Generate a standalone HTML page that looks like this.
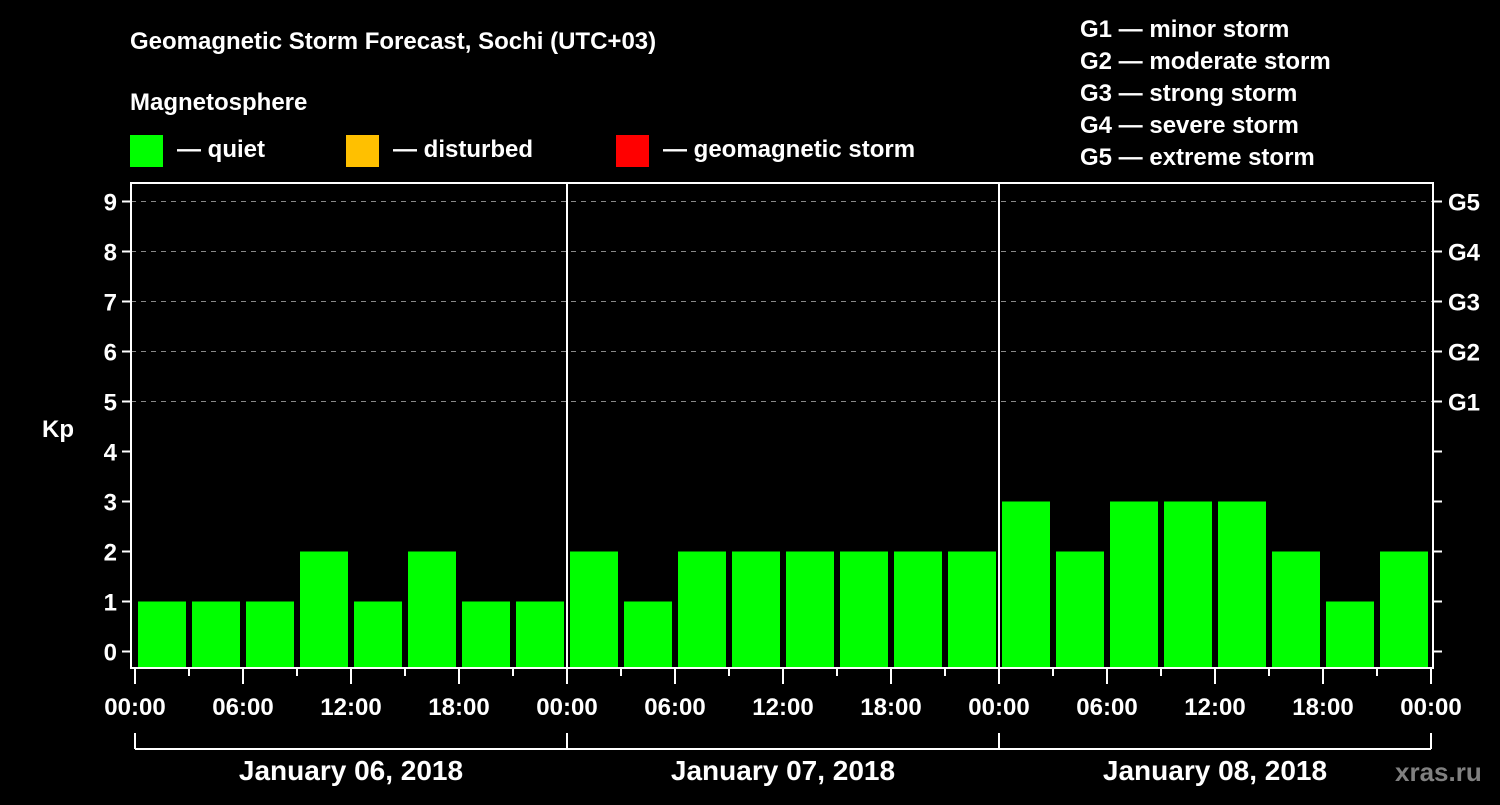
<!DOCTYPE html>
<html><head><meta charset="utf-8"><style>
body{margin:0;background:#000;width:1500px;height:800px;overflow:hidden}
svg text{font-family:"Liberation Sans",Arial,sans-serif;font-weight:bold;fill:#fff}
</style></head><body>
<svg width="1500" height="800" viewBox="0 0 1500 800">
<rect width="1500" height="800" fill="#000"/>
<text x="130" y="49" font-size="24">Geomagnetic Storm Forecast, Sochi (UTC+03)</text>
<text x="130" y="110" font-size="24">Magnetosphere</text>
<g>
<rect x="130" y="135" width="33" height="32" fill="#00ff00"/>
<text x="177" y="157" font-size="24">— quiet</text>
<rect x="346" y="135" width="33" height="32" fill="#ffc000"/>
<text x="393" y="157" font-size="24">— disturbed</text>
<rect x="616" y="135" width="33" height="32" fill="#ff0000"/>
<text x="663" y="157" font-size="24">— geomagnetic storm</text>
</g>
<g font-size="24">
<text x="1080" y="37">G1 — minor storm</text>
<text x="1080" y="69">G2 — moderate storm</text>
<text x="1080" y="101">G3 — strong storm</text>
<text x="1080" y="133">G4 — severe storm</text>
<text x="1080" y="165">G5 — extreme storm</text>
</g>
<text x="42" y="437" font-size="24">Kp</text>
<g id="grid"></g>
<g id="bars"></g>
<g id="axes"></g>
<text x="1395" y="781" font-size="26" fill="#808080" style="fill:#808080">xras.ru</text>
</svg>
<script>
const days = ["January 06, 2018","January 07, 2018","January 08, 2018"];
const kpValues = [1,1,1,2,1,2,1,1, 2,1,2,2,2,2,2,2, 3,2,3,3,3,2,1,2];
const yTicks = [0,1,2,3,4,5,6,7,8,9];
const gLabels = ["G1","G2","G3","G4","G5"];
const xTickLabels = ["00:00","06:00","12:00","18:00"];

const NS="http://www.w3.org/2000/svg";
const L=131,R=1433,T=183,B=668,X0=135,X1=1431;
const y=v=>651.5-v*50;
const slotW=(X1-X0)/kpValues.length;
const x=i=>X0+i*slotW;
function mk(tag,attrs,parent,txt){const e=document.createElementNS(NS,tag);for(const k in attrs)e.setAttribute(k,attrs[k]);if(txt!==undefined)e.textContent=txt;parent.appendChild(e);return e;}
const grid=document.getElementById('grid'),bars=document.getElementById('bars'),axes=document.getElementById('axes');

yTicks.forEach(v=>{
  if(v>=5){const gl=mk('line',{x1:L,x2:R,y1:y(v),y2:y(v),stroke:'#888','stroke-dasharray':'5,5','stroke-width':1},grid);
  
  }
  mk('line',{x1:L-9,x2:L,y1:y(v),y2:y(v),stroke:'#fff','stroke-width':2},axes);
  mk('line',{x1:R,x2:R+9,y1:y(v),y2:y(v),stroke:'#fff','stroke-width':2},axes);
  const t=mk('text',{x:L-14,y:y(v)+9,'font-size':24,'text-anchor':'end'},axes,String(v));
  
  
});
gLabels.forEach((g,i)=>{
  const t=mk('text',{x:R+15,y:y(5+i)+9,'font-size':24},axes,g);
  
  
});
kpValues.forEach((v,i)=>{
  const c=v>=5?'#ff0000':(v>=4?'#ffc000':'#00ff00');
  const b=mk('rect',{x:x(i)+3,y:y(v),width:slotW-6,height:B-y(v),fill:c},bars);
  
  
});
// frame
mk('rect',{x:L,y:T,width:R-L,height:B-T,fill:'none',stroke:'#fff','stroke-width':2},axes);
const dayW=(X1-X0)/days.length;
days.forEach((d,di)=>{
  const dx=X0+di*dayW;
  if(di>0)mk('line',{x1:dx,x2:dx,y1:T,y2:B,stroke:'#fff','stroke-width':2},axes);
  mk('line',{x1:dx,x2:dx+dayW,y1:749,y2:749,stroke:'#fff','stroke-width':2},axes);
  const t=mk('text',{x:dx+dayW/2,y:780,'font-size':28,'text-anchor':'middle'},axes,d);
  
  
});
for(let di=0;di<=days.length;di++){const dx=X0+di*dayW;mk('line',{x1:dx,x2:dx,y1:733,y2:749,stroke:'#fff','stroke-width':2},axes);}
for(let i=0;i<=kpValues.length;i++){
  const major=i%2===0;
  mk('line',{x1:x(i),x2:x(i),y1:B,y2:B+(major?16:8),stroke:'#fff','stroke-width':2},axes);
  if(major){const lbl=xTickLabels[(i/2)%xTickLabels.length];
    const t=mk('text',{x:x(i),y:715,'font-size':24,'text-anchor':'middle'},axes,lbl);
    
    }
}
</script>
</body></html>
